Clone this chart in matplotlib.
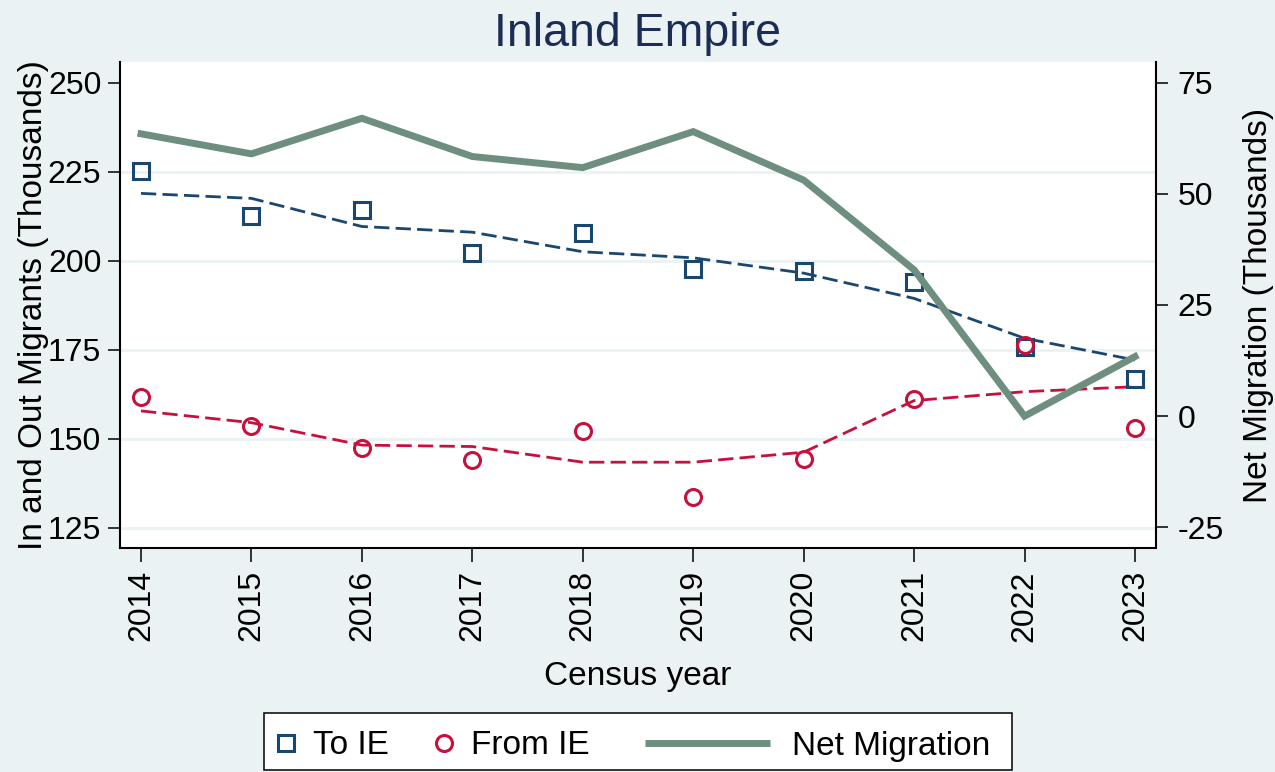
import matplotlib
matplotlib.use("Agg")
import matplotlib.pyplot as plt
from matplotlib.lines import Line2D
from matplotlib.patches import Rectangle

plt.rcParams['font.family'] = ['Liberation Sans', 'DejaVu Sans']
plt.rcParams['axes.unicode_minus'] = False
plt.rcParams['lines.scale_dashes'] = False

# ---- data ----
years = [2014, 2015, 2016, 2017, 2018, 2019, 2020, 2021, 2022, 2023]
to_ie = [225.3, 212.6, 214.2, 202.1, 207.7, 197.6, 197.2, 194.1, 175.7, 166.8]
from_ie = [161.8, 153.7, 147.3, 144.0, 152.2, 133.7, 144.3, 161.2, 176.3, 152.9]
to_ie_fit = [218.9, 217.5, 209.6, 208.0, 202.5, 200.8, 196.5, 189.4, 178.2, 172.1]
from_ie_fit = [157.8, 154.5, 148.2, 147.8, 143.4, 143.4, 146.2, 160.7, 163.2, 164.6]
net = [63.5, 59.0, 67.0, 58.4, 55.9, 64.0, 53.1, 32.9, 0.0, 13.4]

left_ticks = [125, 150, 175, 200, 225, 250]
right_ticks = [-25, 0, 25, 50, 75]

title = "Inland Empire"
ylabel_left = "In and Out Migrants (Thousands)"
ylabel_right = "Net Migration (Thousands)"
xlabel = "Census year"
labels = ["To IE", "From IE", "Net Migration"]

# ---- styles ----
BG = "#EAF2F3"
NAVY = "#1A476F"
RED = "#C8103C"
GREEN = "#6E8F80"
TITLE_C = "#1C2D55"
GRID_C = "#EAF2F3"
MS = 11.5
MEW = 2.2

W, H = 1275, 772
fig = plt.figure(figsize=(W / 100, H / 100), dpi=100, facecolor=BG)
L, R, T, B = 120, 1156, 62, 548
ax = fig.add_axes([L / W, 1 - B / H, (R - L) / W, (B - T) / H])
ax.set_facecolor("white")

ax.plot(years, to_ie_fit, color=NAVY, lw=2.0, dashes=(11, 4.5), zorder=3)
ax.plot(years, from_ie_fit, color=RED, lw=2.0, dashes=(11, 4.5), zorder=3)
ax.plot(years, to_ie, ls="none", marker="s", ms=MS, mfc="none", mec=NAVY, mew=MEW, zorder=4)
ax.plot(years, from_ie, ls="none", marker="o", ms=MS, mfc="none", mec=RED, mew=MEW, zorder=4)

ax.set_xlim(2013.81, 2023.19)
ax.set_ylim(119.3, 255.8)
ax.set_yticks(left_ticks)
ax.set_xticks(years)
ax.set_xticklabels([str(y) for y in years], rotation=90)
ax.yaxis.grid(True, color=GRID_C, lw=2.0)
ax.set_axisbelow(True)
for gl, v in zip(ax.get_ygridlines(), left_ticks):
    if v == 250:
        gl.set_visible(False)

ax.tick_params(axis='y', direction='out', length=8.5, width=1.1, pad=5, labelsize=23, colors='black')
ax.tick_params(axis='x', direction='out', length=10, width=1.1, pad=6, labelsize=23, colors='black')
for s in ['top', 'right']:
    ax.spines[s].set_visible(False)
for s in ['left', 'bottom']:
    ax.spines[s].set_linewidth(1.5)
    ax.spines[s].set_color('black')

ax2 = ax.twinx()
ax2.plot(years, net, color=GREEN, lw=5.0, solid_joinstyle='miter', zorder=5)
ax2.set_ylim(-29.66, 79.66)
ax2.set_yticks(right_ticks)
ax2.set_yticklabels([str(v) for v in right_ticks])
ax2.tick_params(axis='y', direction='out', length=8.5, width=1.1, pad=7, labelsize=23, colors='black')
for s in ['top', 'left', 'bottom']:
    ax2.spines[s].set_visible(False)
ax2.spines['right'].set_linewidth(1.5)
ax2.spines['right'].set_color('black')

# labels
ax.set_ylabel(ylabel_left, fontsize=24, va='baseline', ha='center', rotation=90, rotation_mode='anchor')
ax.yaxis.set_label_coords((42 - L) / (R - L), 0.5)
ax2.set_ylabel(ylabel_right, fontsize=24, va='baseline', ha='center', rotation=90, rotation_mode='anchor')
ax2.yaxis.set_label_coords((1267 - L) / (R - L), 0.5)
ax.set_xlabel(xlabel, fontsize=24, va='baseline', ha='center')
ax.xaxis.set_label_coords(0.5, (B - 685) / (B - T))
ax.set_title(title, fontsize=33.5, color=TITLE_C, va='baseline', y=(B - 46) / (B - T), pad=0)

# legend frame
fig.add_artist(Rectangle((264 / W, (H - 770) / H), (1012 - 264) / W, (770 - 713) / H,
                         transform=fig.transFigure, facecolor='white', edgecolor='black',
                         lw=1.1, zorder=1))

h_to = Line2D([], [], ls="none", marker="s", ms=MS, mfc="none", mec=NAVY, mew=MEW)
h_from = Line2D([], [], ls="none", marker="o", ms=MS, mfc="none", mec=RED, mew=MEW)
h_net = Line2D([], [], color=GREEN, lw=5.0, solid_capstyle='butt')

yc = (H - 746) / H
legA = fig.legend([h_to, h_from], labels[:2], loc='center left', bbox_to_anchor=(269 / W, yc),
                  bbox_transform=fig.transFigure, ncol=2, frameon=False, fontsize=24,
                  handlelength=1.0, handletextpad=0.33, columnspacing=1.13,
                  borderpad=0, borderaxespad=0)
legB = fig.legend([h_net], labels[2:], loc='center left', bbox_to_anchor=(645 / W, yc),
                  bbox_transform=fig.transFigure, frameon=False, fontsize=24,
                  handlelength=3.75, handletextpad=0.66, borderpad=0, borderaxespad=0)
legA.set_zorder(5)
legB.set_zorder(5)

fig.savefig("out.png", dpi=100, facecolor=BG)
